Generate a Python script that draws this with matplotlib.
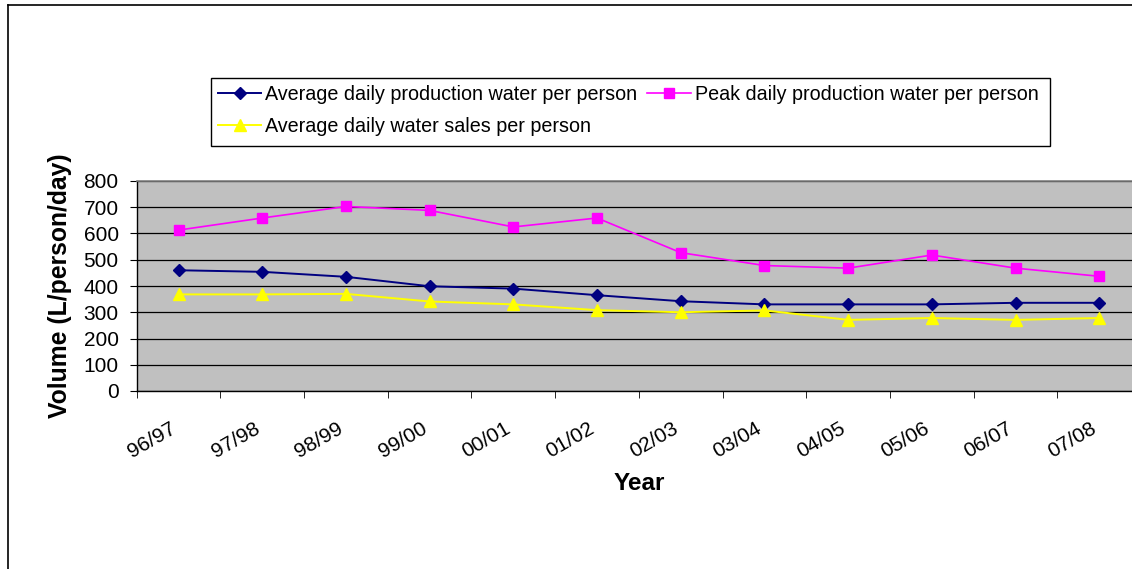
import matplotlib
matplotlib.use("Agg")
import matplotlib.pyplot as plt
from matplotlib.lines import Line2D
from matplotlib.patches import Rectangle
from matplotlib.transforms import ScaledTranslation

plt.rcParams['font.family'] = ['Liberation Sans', 'DejaVu Sans']

years = ['96/97', '97/98', '98/99', '99/00', '00/01', '01/02',
         '02/03', '03/04', '04/05', '05/06', '06/07', '07/08']
avg_production = [460, 454, 435, 399, 390, 365, 342, 330, 330, 330, 336, 336]
peak_production = [613, 659, 703, 688, 625, 659, 527, 478, 468, 518, 468, 437]
avg_sales = [368, 368, 370, 341, 330, 308, 300, 307, 271, 278, 271, 278]
labels = ['Average daily production water per person',
          'Peak daily production water per person',
          'Average daily water sales per person']
yticks = [0, 100, 200, 300, 400, 500, 600, 700, 800]

W, H = 1132, 569
fig = plt.figure(figsize=(W / 100, H / 100), dpi=100)

# chart outer border (left and top visible)
fig.add_artist(Line2D([8 / W, 8 / W], [0, 1 - 5 / H], transform=fig.transFigure,
                      color='black', lw=1.2))
fig.add_artist(Line2D([8 / W, 1], [1 - 5 / H, 1 - 5 / H], transform=fig.transFigure,
                      color='black', lw=1.2))

left, right, top, bottom = 136.7, 136.7 + 12 * 83.7, 181, 391
ax = fig.add_axes([left / W, 1 - bottom / H, (right - left) / W, (bottom - top) / H])
ax.set_facecolor('#C0C0C0')

x = list(range(len(years)))
l1, = ax.plot(x, avg_production, color='#000080', marker='D', ms=6.5, lw=1.4)
l2, = ax.plot(x, peak_production, color='#FF00FF', marker='s', ms=7, lw=1.2)
l3, = ax.plot(x, avg_sales, color='#FFFF00', marker='^', ms=8, lw=1.4)

ax.set_xlim(-0.5, len(years) - 0.5)
ax.set_ylim(0, 800)
ax.set_yticks(yticks)
ax.set_yticklabels([str(v) for v in yticks], fontsize=15)
ax.yaxis.grid(True, color='black', lw=0.9)
ax.set_axisbelow(True)

ax.set_xticks(x)
ax.set_xticklabels(years, fontsize=15, rotation=30, ha='right', va='top',
                   rotation_mode='anchor')
ax.tick_params(axis='x', which='major', length=0, pad=20)
shift = ScaledTranslation(-9 / 100, 0, fig.dpi_scale_trans)
for lab in ax.get_xticklabels():
    lab.set_transform(lab.get_transform() + shift)
ax.set_xticks([i - 0.5 for i in range(len(years) + 1)], minor=True)
ax.tick_params(axis='x', which='minor', length=5, direction='out', color='black')
ax.tick_params(axis='y', length=5, direction='out', color='black', pad=8)

for s in ['top', 'right']:
    ax.spines[s].set_color('#808080')
    ax.spines[s].set_linewidth(1.2)
ax.spines['left'].set_color('black')
ax.spines['bottom'].set_color('black')
ax.spines['left'].set_linewidth(1)
ax.spines['bottom'].set_linewidth(1)

ax.set_ylabel('Volume (L/person/day)', fontsize=17.8, fontweight='bold')
ax.yaxis.label.set_va('center')
ax.yaxis.set_label_coords((60 - left) / (right - left), 0.5)
ax.set_xlabel('Year', fontsize=17.5, fontweight='bold')
ax.xaxis.label.set_va('center')
ax.xaxis.set_label_coords(0.5, (bottom - 483) / (bottom - top))

# legend (row-wise order) with a separate frame
fig.add_artist(Rectangle((211 / W, 1 - 146 / H), (1050 - 211) / W, 68 / H,
                         transform=fig.transFigure, fill=False,
                         edgecolor='black', lw=1))
leg = fig.legend([l1, l3, l2], [labels[0], labels[2], labels[1]], ncol=2,
                 fontsize=14.2, loc='center left',
                 bbox_to_anchor=(218 / W, 1 - 110.5 / H),
                 frameon=False, handlelength=2.2, handletextpad=0.2,
                 columnspacing=0.5, borderpad=0, labelspacing=0.65,
                 borderaxespad=0)

fig.savefig('out.png', dpi=100, facecolor='white')
